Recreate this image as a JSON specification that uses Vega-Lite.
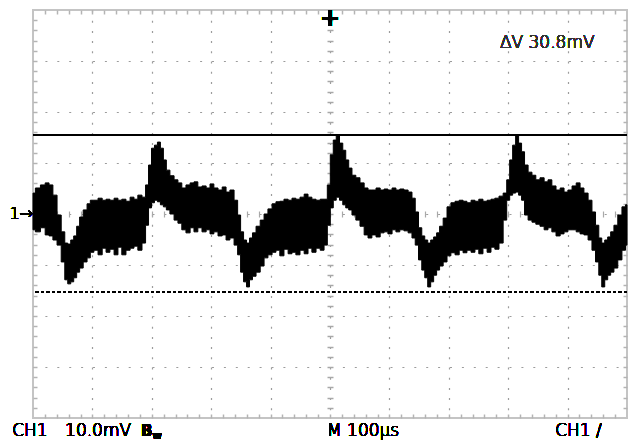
{
  "$schema": "https://vega.github.io/schema/vega-lite/v6.json",
  "width": 594,
  "height": 408,
  "autosize": "none",
  "padding": {"left": 33, "top": 10, "right": 2, "bottom": 23},
  "background": "white",
  "data": {
    "values": [
      {"t": -500, "hi": 4.1, "lo": -3.1}, {"t": -492, "hi": 5.1, "lo": -3.5}, {"t": -483, "hi": 5.7, "lo": -2.7},
      {"t": -476, "hi": 6.1, "lo": -4.1}, {"t": -470, "hi": 5.7, "lo": -4.3}, {"t": -463, "hi": 3.7, "lo": -5.1},
      {"t": -456, "hi": -0.2, "lo": -6.1}, {"t": -449, "hi": -3.5, "lo": -9.4}, {"t": -444, "hi": -5.7, "lo": -12.9},
      {"t": -439, "hi": -5.9, "lo": -13.7}, {"t": -434, "hi": -5.1, "lo": -13.3}, {"t": -429, "hi": -4.3, "lo": -12.5},
      {"t": -424, "hi": -2.4, "lo": -11.4}, {"t": -419, "hi": -0.6, "lo": -10.6}, {"t": -412, "hi": 0.8, "lo": -9.4},
      {"t": -406, "hi": 2.0, "lo": -8.6}, {"t": -401, "hi": 2.7, "lo": -7.5}, {"t": -394, "hi": 2.7, "lo": -7.1},
      {"t": -387, "hi": 3.1, "lo": -8.0}, {"t": -380, "hi": 2.7, "lo": -6.7}, {"t": -374, "hi": 2.9, "lo": -7.5},
      {"t": -367, "hi": 2.7, "lo": -6.9}, {"t": -360, "hi": 3.1, "lo": -8.0}, {"t": -354, "hi": 2.7, "lo": -6.5},
      {"t": -347, "hi": 2.9, "lo": -8.0}, {"t": -340, "hi": 2.5, "lo": -7.1}, {"t": -333, "hi": 3.3, "lo": -6.7},
      {"t": -327, "hi": 2.9, "lo": -6.3}, {"t": -320, "hi": 3.7, "lo": -7.1}, {"t": -313, "hi": 3.3, "lo": -5.7},
      {"t": -308, "hi": 5.7, "lo": -2.2}, {"t": -303, "hi": 9.6, "lo": 1.2}, {"t": -298, "hi": 12.9, "lo": 2.2},
      {"t": -293, "hi": 13.5, "lo": 2.7}, {"t": -288, "hi": 14.1, "lo": 2.4}, {"t": -283, "hi": 12.9, "lo": 1.8},
      {"t": -278, "hi": 10.6, "lo": 1.4}, {"t": -273, "hi": 8.6, "lo": 0.8}, {"t": -266, "hi": 7.5, "lo": 0},
      {"t": -259, "hi": 6.7, "lo": -1.2}, {"t": -253, "hi": 6.1, "lo": -1.8}, {"t": -246, "hi": 5.1, "lo": -3.1},
      {"t": -239, "hi": 5.7, "lo": -3.7}, {"t": -232, "hi": 6.1, "lo": -2.7}, {"t": -226, "hi": 6.3, "lo": -3.5},
      {"t": -219, "hi": 5.3, "lo": -2.7}, {"t": -212, "hi": 5.5, "lo": -3.5}, {"t": -205, "hi": 5.1, "lo": -3.1},
      {"t": -199, "hi": 5.9, "lo": -3.9}, {"t": -192, "hi": 5.1, "lo": -3.5}, {"t": -185, "hi": 4.7, "lo": -4.3},
      {"t": -178, "hi": 5.3, "lo": -4.1}, {"t": -172, "hi": 4.3, "lo": -5.1}, {"t": -165, "hi": 4.7, "lo": -4.7},
      {"t": -158, "hi": 2.7, "lo": -6.1}, {"t": -153, "hi": -0.2, "lo": -8.0}, {"t": -148, "hi": -3.5, "lo": -11.4},
      {"t": -143, "hi": -5.1, "lo": -13.3}, {"t": -138, "hi": -5.7, "lo": -14.3}, {"t": -133, "hi": -4.7, "lo": -12.9},
      {"t": -128, "hi": -3.7, "lo": -12.2}, {"t": -121, "hi": -2.4, "lo": -11.4}, {"t": -114, "hi": -1.2, "lo": -10.2},
      {"t": -108, "hi": 0, "lo": -8.6}, {"t": -101, "hi": 1.0, "lo": -8.0}, {"t": -94, "hi": 2.0, "lo": -7.5},
      {"t": -88, "hi": 2.4, "lo": -7.1}, {"t": -81, "hi": 2.5, "lo": -8.2}, {"t": -74, "hi": 2.9, "lo": -6.9},
      {"t": -67, "hi": 2.7, "lo": -7.8}, {"t": -61, "hi": 3.1, "lo": -7.5}, {"t": -54, "hi": 2.9, "lo": -8.0},
      {"t": -47, "hi": 3.3, "lo": -7.1}, {"t": -40, "hi": 3.9, "lo": -7.8}, {"t": -34, "hi": 3.3, "lo": -6.7},
      {"t": -27, "hi": 2.9, "lo": -7.5}, {"t": -20, "hi": 2.7, "lo": -6.7}, {"t": -13, "hi": 2.9, "lo": -7.1},
      {"t": -7, "hi": 2.9, "lo": -6.1}, {"t": -2, "hi": 5.7, "lo": -2.2}, {"t": 3, "hi": 11.6, "lo": 1.2},
      {"t": 8, "hi": 14.5, "lo": 2.7}, {"t": 13, "hi": 15.5, "lo": 3.3}, {"t": 19, "hi": 13.9, "lo": 2.7},
      {"t": 24, "hi": 12.5, "lo": 1.8}, {"t": 29, "hi": 10.6, "lo": 1.2}, {"t": 34, "hi": 9.0, "lo": 0.8},
      {"t": 40, "hi": 7.6, "lo": -0.2}, {"t": 47, "hi": 7.1, "lo": -1.2}, {"t": 54, "hi": 6.1, "lo": -2.4},
      {"t": 61, "hi": 5.1, "lo": -4.1}, {"t": 67, "hi": 4.7, "lo": -4.7}, {"t": 74, "hi": 4.7, "lo": -4.1},
      {"t": 81, "hi": 5.1, "lo": -4.5}, {"t": 88, "hi": 4.7, "lo": -3.7}, {"t": 94, "hi": 4.9, "lo": -3.5},
      {"t": 101, "hi": 4.7, "lo": -3.9}, {"t": 108, "hi": 5.1, "lo": -3.1}, {"t": 114, "hi": 4.7, "lo": -3.5},
      {"t": 121, "hi": 4.9, "lo": -3.1}, {"t": 128, "hi": 4.7, "lo": -3.3}, {"t": 135, "hi": 4.3, "lo": -3.7},
      {"t": 141, "hi": 3.1, "lo": -4.7}, {"t": 146, "hi": 0.4, "lo": -6.1}, {"t": 152, "hi": -2.7, "lo": -9.0},
      {"t": 157, "hi": -4.3, "lo": -11.0}, {"t": 162, "hi": -5.1, "lo": -12.5}, {"t": 167, "hi": -5.7, "lo": -14.3},
      {"t": 172, "hi": -5.1, "lo": -13.3}, {"t": 177, "hi": -4.5, "lo": -12.0}, {"t": 182, "hi": -3.7, "lo": -11.0},
      {"t": 187, "hi": -2.4, "lo": -10.2}, {"t": 194, "hi": -0.8, "lo": -9.4}, {"t": 200, "hi": 1.4, "lo": -8.2},
      {"t": 207, "hi": 2.2, "lo": -7.6}, {"t": 214, "hi": 2.5, "lo": -8.0}, {"t": 221, "hi": 2.7, "lo": -7.1},
      {"t": 227, "hi": 2.5, "lo": -7.6}, {"t": 234, "hi": 2.2, "lo": -7.1}, {"t": 241, "hi": 2.7, "lo": -7.5},
      {"t": 247, "hi": 2.5, "lo": -6.9}, {"t": 254, "hi": 2.9, "lo": -7.8}, {"t": 261, "hi": 2.5, "lo": -6.7},
      {"t": 268, "hi": 2.7, "lo": -7.5}, {"t": 274, "hi": 2.9, "lo": -6.5}, {"t": 281, "hi": 3.1, "lo": -6.9},
      {"t": 288, "hi": 3.5, "lo": -5.7}, {"t": 295, "hi": 4.1, "lo": -1.2}, {"t": 300, "hi": 6.7, "lo": 2.7},
      {"t": 305, "hi": 10.6, "lo": 3.7}, {"t": 310, "hi": 13.5, "lo": 4.1}, {"t": 315, "hi": 15.5, "lo": 4.3},
      {"t": 320, "hi": 13.9, "lo": 3.7}, {"t": 325, "hi": 12.2, "lo": 2.7}, {"t": 330, "hi": 9.6, "lo": -0.2},
      {"t": 337, "hi": 8.2, "lo": -1.2}, {"t": 343, "hi": 7.6, "lo": -1.6}, {"t": 350, "hi": 6.7, "lo": -2.0},
      {"t": 357, "hi": 7.1, "lo": -2.4}, {"t": 364, "hi": 6.3, "lo": -3.1}, {"t": 370, "hi": 6.7, "lo": -2.7},
      {"t": 377, "hi": 5.5, "lo": -3.5}, {"t": 384, "hi": 4.7, "lo": -4.3}, {"t": 391, "hi": 5.1, "lo": -3.9},
      {"t": 397, "hi": 4.3, "lo": -3.5}, {"t": 404, "hi": 4.7, "lo": -3.1}, {"t": 411, "hi": 5.5, "lo": -3.1},
      {"t": 418, "hi": 6.1, "lo": -3.5}, {"t": 424, "hi": 5.1, "lo": -3.9}, {"t": 431, "hi": 4.1, "lo": -4.1},
      {"t": 438, "hi": 2.7, "lo": -5.1}, {"t": 444, "hi": 0.4, "lo": -7.1}, {"t": 450, "hi": -2.2, "lo": -9.4},
      {"t": 455, "hi": -4.7, "lo": -12.0}, {"t": 460, "hi": -5.7, "lo": -14.3}, {"t": 465, "hi": -5.1, "lo": -12.9},
      {"t": 470, "hi": -4.5, "lo": -12.0}, {"t": 475, "hi": -3.5, "lo": -11.4}, {"t": 481, "hi": -2.2, "lo": -10.6},
      {"t": 488, "hi": -0.2, "lo": -9.0}, {"t": 495, "hi": 1.4, "lo": -7.1}, {"t": 500, "hi": 1.8, "lo": -6.1}
    ]
  },
  "resolve": {"axis": {"x": "independent", "y": "independent"}},
  "layer": [
    {
      "mark": {"type": "area", "color": "black", "interpolate": "step", "stroke": "black", "strokeWidth": 1},
      "encoding": {
        "x": {
          "field": "t", "type": "quantitative", "title": null,
          "scale": {"domain": [-500, 500], "nice": false, "zero": false},
          "axis": {
            "orient": "bottom", "values": [-400, -300, -200, -100, 0, 100, 200, 300, 400],
            "grid": true, "gridColor": "#9c9c9c", "gridWidth": 1.2, "gridDash": [2, 8.2],
            "ticks": false, "labels": false, "domain": false
          }
        },
        "y": {
          "field": "hi", "type": "quantitative", "title": null,
          "scale": {"domain": [-40, 40], "nice": false, "zero": false},
          "axis": {
            "orient": "left", "values": [-30, -20, -10, 0, 10, 20, 30],
            "grid": true, "gridColor": "#9c9c9c", "gridWidth": 1.2, "gridDash": [2, 9.9],
            "ticks": false, "labels": false, "domain": false
          }
        },
        "y2": {"field": "lo"}
      }
    },
    {
      "mark": {"type": "point", "opacity": 0},
      "encoding": {
        "x": {
          "field": "t", "type": "quantitative", "title": null,
          "axis": {
            "orient": "top",
            "values": [-480, -460, -440, -420, -400, -380, -360, -340, -320, -300, -280, -260, -240, -220, -200, -180, -160, -140, -120, -100, -80, -60, -40, -20, 0, 20, 40, 60, 80, 100, 120, 140, 160, 180, 200, 220, 240, 260, 280, 300, 320, 340, 360, 380, 400, 420, 440, 460, 480],
            "grid": false, "ticks": true, "tickSize": -4, "tickColor": "#b4b4b4", "tickWidth": 1.5,
            "labels": false, "domain": false
          }
        },
        "y": {
          "field": "hi", "type": "quantitative", "title": null,
          "axis": {
            "orient": "right",
            "values": [-38, -36, -34, -32, -30, -28, -26, -24, -22, -20, -18, -16, -14, -12, -10, -8, -6, -4, -2, 0, 2, 4, 6, 8, 10, 12, 14, 16, 18, 20, 22, 24, 26, 28, 30, 32, 34, 36, 38],
            "grid": false, "ticks": true, "tickSize": -4, "tickColor": "#b4b4b4", "tickWidth": 1.5,
            "labels": false, "domain": false
          }
        }
      }
    },
    {
      "mark": {"type": "point", "opacity": 0},
      "encoding": {
        "x": {
          "field": "t", "type": "quantitative", "title": null,
          "axis": {
            "orient": "bottom",
            "values": [-480, -460, -440, -420, -400, -380, -360, -340, -320, -300, -280, -260, -240, -220, -200, -180, -160, -140, -120, -100, -80, -60, -40, -20, 0, 20, 40, 60, 80, 100, 120, 140, 160, 180, 200, 220, 240, 260, 280, 300, 320, 340, 360, 380, 400, 420, 440, 460, 480],
            "grid": false, "ticks": true, "tickSize": -4, "tickColor": "#b4b4b4", "tickWidth": 1.5,
            "labels": false, "domain": false
          }
        },
        "y": {
          "field": "hi", "type": "quantitative", "title": null,
          "axis": {
            "orient": "left",
            "values": [-38, -36, -34, -32, -30, -28, -26, -24, -22, -20, -18, -16, -14, -12, -10, -8, -6, -4, -2, 0, 2, 4, 6, 8, 10, 12, 14, 16, 18, 20, 22, 24, 26, 28, 30, 32, 34, 36, 38],
            "grid": false, "ticks": true, "tickSize": -4, "tickColor": "#b4b4b4", "tickWidth": 1.5,
            "labels": false, "domain": false
          }
        }
      }
    },
    {
      "mark": {"type": "point", "opacity": 0},
      "encoding": {
        "x": {
          "field": "t", "type": "quantitative", "title": null,
          "axis": {
            "orient": "bottom", "offset": -207,
            "values": [-480, -460, -440, -420, -400, -380, -360, -340, -320, -300, -280, -260, -240, -220, -200, -180, -160, -140, -120, -100, -80, -60, -40, -20, 0, 20, 40, 60, 80, 100, 120, 140, 160, 180, 200, 220, 240, 260, 280, 300, 320, 340, 360, 380, 400, 420, 440, 460, 480],
            "grid": false, "ticks": true, "tickSize": 6, "tickColor": "#a8a8a8", "tickWidth": 1.2,
            "labels": false, "domain": false
          }
        },
        "y": {
          "field": "hi", "type": "quantitative", "title": null,
          "axis": {
            "orient": "left", "offset": -300,
            "values": [-38, -36, -34, -32, -30, -28, -26, -24, -22, -20, -18, -16, -14, -12, -10, -8, -6, -4, -2, 0, 2, 4, 6, 8, 10, 12, 14, 16, 18, 20, 22, 24, 26, 28, 30, 32, 34, 36, 38],
            "grid": false, "ticks": true, "tickSize": 6, "tickColor": "#a8a8a8", "tickWidth": 1.5,
            "labels": false, "domain": false
          }
        }
      }
    },
    {
      "mark": {"type": "rule", "color": "black", "strokeWidth": 1.6},
      "encoding": {"y": {"datum": 15.5, "type": "quantitative", "axis": null}}
    },
    {
      "mark": {"type": "rule", "color": "black", "strokeWidth": 1.6, "strokeDash": [3, 2.5]},
      "encoding": {"y": {"datum": -15.3, "type": "quantitative", "axis": null}}
    },
    {
      "mark": {"type": "text", "text": "ΔV 30.8mV", "align": "left", "baseline": "middle", "fontSize": 17, "color": "#333333"},
      "encoding": {
        "x": {"datum": 286, "type": "quantitative", "axis": null},
        "y": {"datum": 33.5, "type": "quantitative", "axis": null}
      }
    },
    {
      "mark": {"type": "text", "text": "1→", "align": "right", "baseline": "middle", "fontSize": 16, "color": "black"},
      "encoding": {
        "x": {"datum": -500, "type": "quantitative", "axis": null},
        "y": {"datum": 0, "type": "quantitative", "axis": null}
      }
    },
    {
      "mark": {"type": "text", "text": "+", "align": "center", "baseline": "middle", "fontSize": 24, "fontWeight": "bold", "color": "black"},
      "encoding": {
        "x": {"datum": 0, "type": "quantitative", "axis": null},
        "y": {"datum": 38.3, "type": "quantitative", "axis": null}
      }
    },
    {
      "mark": {"type": "text", "text": "CH1", "align": "left", "baseline": "alphabetic", "fontSize": 17, "color": "black"},
      "encoding": {
        "x": {"datum": -535, "type": "quantitative", "axis": null},
        "y": {"datum": -43.5, "type": "quantitative", "axis": null}
      }
    },
    {
      "mark": {"type": "text", "text": "10.0mV", "align": "left", "baseline": "alphabetic", "fontSize": 17, "color": "black"},
      "encoding": {
        "x": {"datum": -446, "type": "quantitative", "axis": null},
        "y": {"datum": -43.5, "type": "quantitative", "axis": null}
      }
    },
    {
      "mark": {"type": "text", "text": "B", "align": "left", "baseline": "alphabetic", "fontSize": 15, "fontWeight": "bold", "color": "black"},
      "encoding": {
        "x": {"datum": -318, "type": "quantitative", "axis": null},
        "y": {"datum": -43.5, "type": "quantitative", "axis": null}
      }
    },
    {
      "mark": {"type": "text", "text": "w", "align": "left", "baseline": "alphabetic", "fontSize": 10, "fontWeight": "bold", "color": "black"},
      "encoding": {
        "x": {"datum": -299, "type": "quantitative", "axis": null},
        "y": {"datum": -44.2, "type": "quantitative", "axis": null}
      }
    },
    {
      "mark": {"type": "text", "text": "M 100µs", "align": "left", "baseline": "alphabetic", "fontSize": 17, "color": "black"},
      "encoding": {
        "x": {"datum": -5, "type": "quantitative", "axis": null},
        "y": {"datum": -43.5, "type": "quantitative", "axis": null}
      }
    },
    {
      "mark": {"type": "text", "text": "CH1 /", "align": "left", "baseline": "alphabetic", "fontSize": 17, "color": "black"},
      "encoding": {
        "x": {"datum": 379, "type": "quantitative", "axis": null},
        "y": {"datum": -43.5, "type": "quantitative", "axis": null}
      }
    }
  ],
  "config": {
    "view": {"stroke": "#c4c4c4", "strokeWidth": 2},
    "text": {"font": "DejaVu Sans", "fontWeight": 300}
  }
}
